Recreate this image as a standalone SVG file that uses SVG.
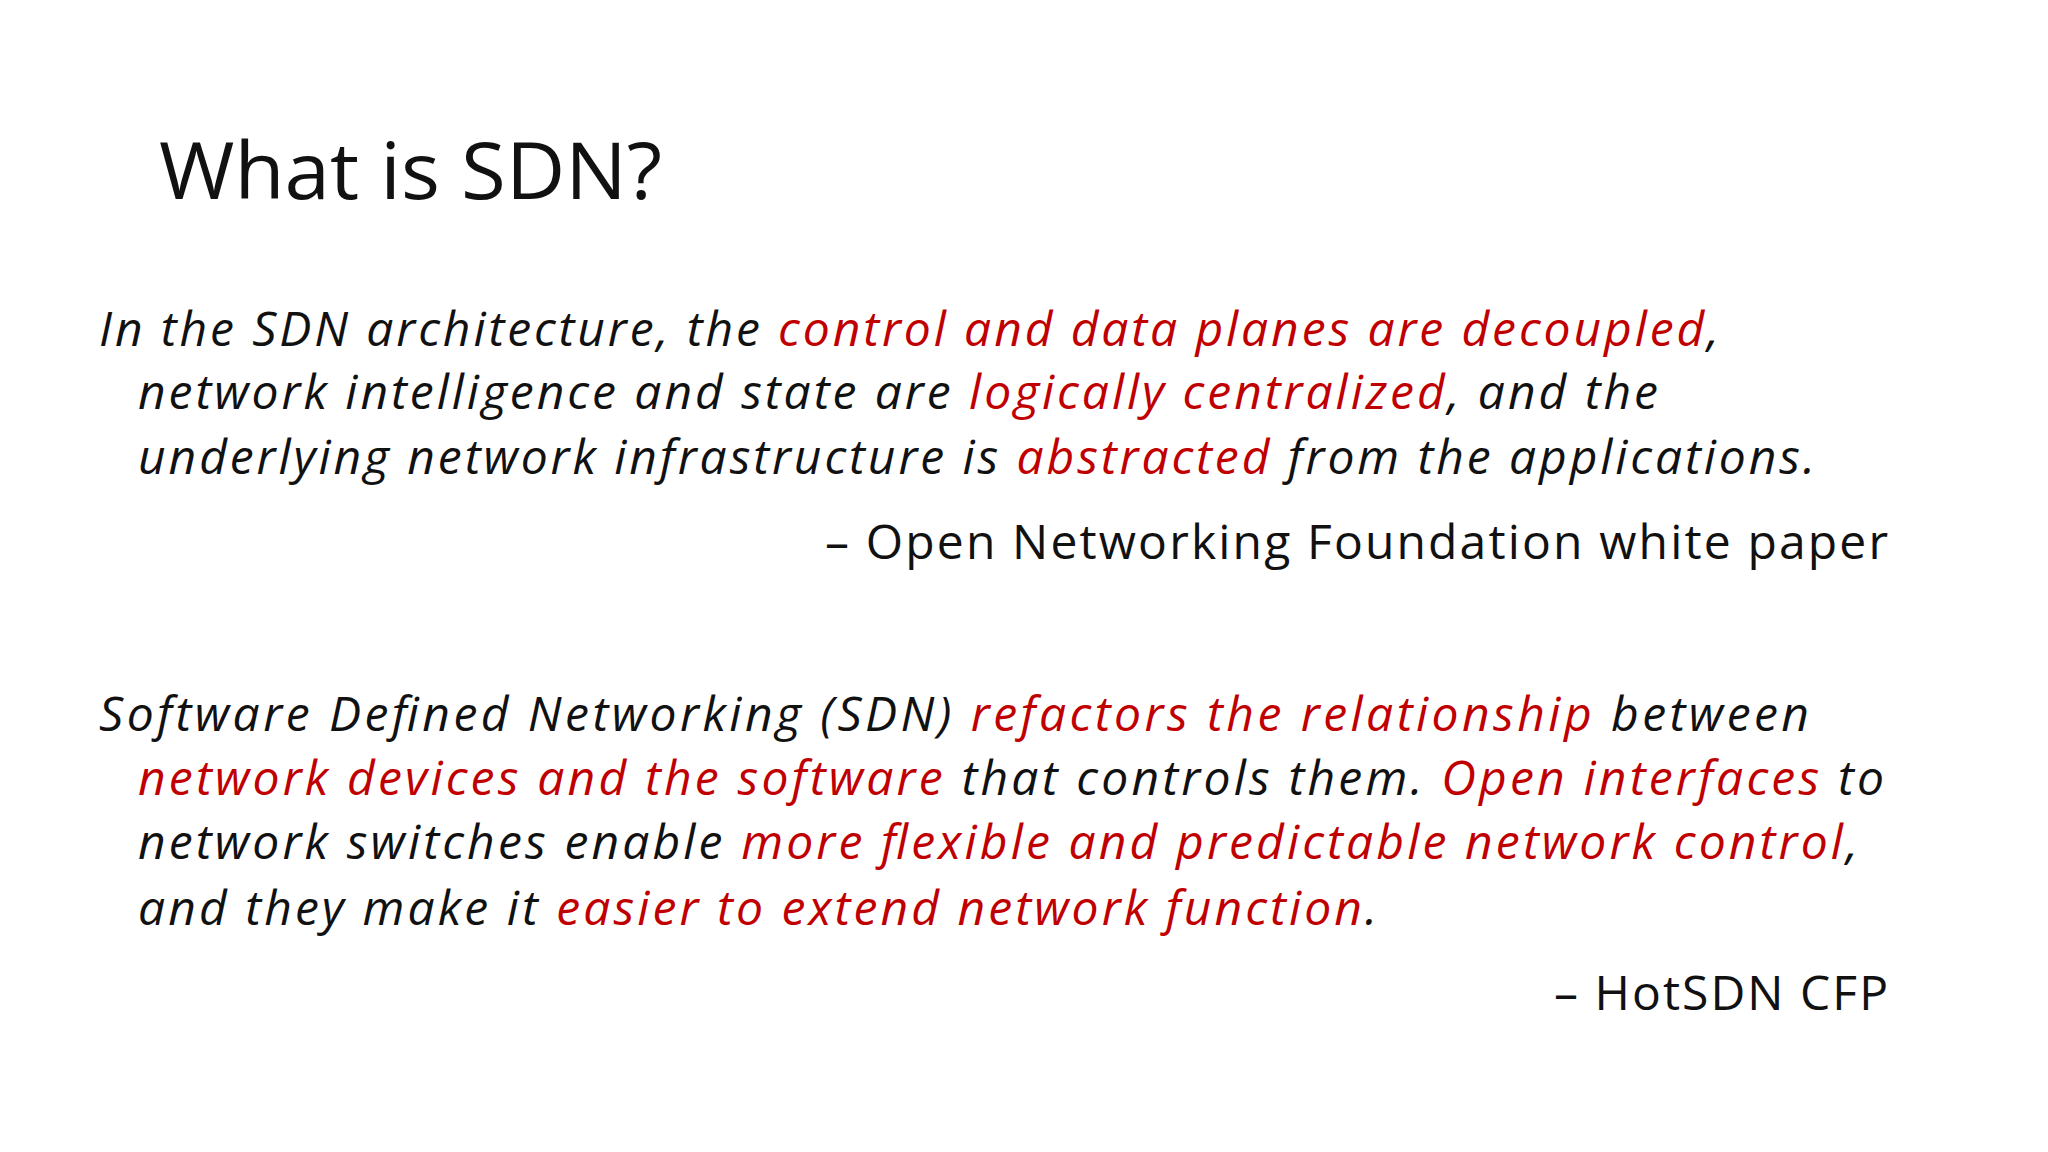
<svg xmlns="http://www.w3.org/2000/svg" width="2048" height="1152" viewBox="0 0 2048 1152">
<style>
text{font-family:"Open Sans",Lato,"Liberation Sans",sans-serif;fill:#111}
.b{font-style:italic;font-size:48px}
.r{fill:#c00000}
.a{font-size:48px}
</style>
<rect width="2048" height="1152" fill="#fff"/>
<text x="159" y="199" font-size="78" textLength="503" lengthAdjust="spacingAndGlyphs">What is SDN?</text>
<text class="b" x="99" y="346" textLength="1620">In the SDN architecture, the <tspan class="r">control and data planes are decoupled</tspan>,</text>
<text class="b" x="138" y="409" textLength="1520">network intelligence and state are <tspan class="r">logically centralized</tspan>, and the</text>
<text class="b" x="138" y="474" textLength="1677">underlying network infrastructure is <tspan class="r">abstracted</tspan> from the applications.</text>
<text class="a" x="825" y="559" textLength="1063">– Open Networking Foundation white paper</text>
<text class="b" x="99" y="731" textLength="1710">Software Defined Networking (SDN) <tspan class="r">refactors the relationship</tspan> between</text>
<text class="b" x="138" y="795" textLength="1746"><tspan class="r">network devices and the software</tspan> that controls them. <tspan class="r">Open interfaces</tspan> to</text>
<text class="b" x="138" y="859" textLength="1720">network switches enable <tspan class="r">more flexible and predictable network control</tspan>,</text>
<text class="b" x="138" y="925" textLength="1239">and they make it <tspan class="r">easier to extend network function</tspan>.</text>
<text class="a" x="1554" y="1010" textLength="334">– HotSDN CFP</text>
</svg>
